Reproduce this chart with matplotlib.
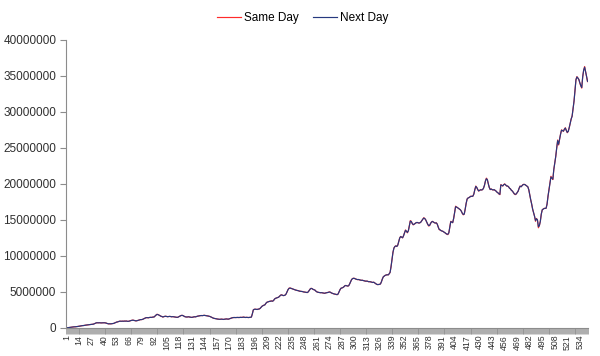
import numpy as np
import matplotlib
matplotlib.use("Agg")
import matplotlib.pyplot as plt
from matplotlib.ticker import FixedLocator, NullFormatter

# values, in millions (one value per day, days 1..542)
same_day = [
    0.00, 0.02, 0.04, 0.05, 0.07, 0.09, 0.12, 0.14, 0.15, 0.14, 0.16, 0.18, 0.20,
    0.22, 0.25, 0.28, 0.30, 0.31, 0.33, 0.36, 0.38, 0.40, 0.41, 0.43, 0.45, 0.47,
    0.48, 0.50, 0.52, 0.58, 0.65, 0.70, 0.71, 0.70, 0.72, 0.70, 0.69, 0.71, 0.70,
    0.72, 0.70, 0.68, 0.62, 0.58, 0.55, 0.57, 0.56, 0.58, 0.60, 0.62, 0.68, 0.75,
    0.80, 0.83, 0.88, 0.92, 0.93, 0.91, 0.94, 0.92, 0.95, 0.93, 0.96, 0.92, 0.90,
    0.93, 0.98, 1.02, 1.06, 1.08, 1.04, 1.00, 0.97, 0.99, 1.03, 1.08, 1.12, 1.15,
    1.15, 1.18, 1.25, 1.32, 1.38, 1.43, 1.42, 1.40, 1.44, 1.47, 1.45, 1.48, 1.50,
    1.52, 1.65, 1.78, 1.90, 1.85, 1.78, 1.70, 1.62, 1.58, 1.50, 1.55, 1.60, 1.62,
    1.58, 1.55, 1.57, 1.60, 1.58, 1.54, 1.56, 1.55, 1.52, 1.50, 1.48, 1.45, 1.50,
    1.58, 1.65, 1.72, 1.75, 1.70, 1.62, 1.55, 1.52, 1.50, 1.52, 1.55, 1.50, 1.48,
    1.45, 1.48, 1.52, 1.55, 1.53, 1.58, 1.62, 1.65, 1.68, 1.70, 1.72, 1.70, 1.72,
    1.75, 1.72, 1.70, 1.68, 1.65, 1.62, 1.58, 1.52, 1.45, 1.38, 1.33, 1.30, 1.28,
    1.25, 1.22, 1.20, 1.18, 1.20, 1.22, 1.19, 1.17, 1.20, 1.24, 1.25, 1.22, 1.20,
    1.25, 1.30, 1.35, 1.40, 1.42, 1.45, 1.43, 1.44, 1.46, 1.45, 1.43, 1.45, 1.47,
    1.45, 1.48, 1.50, 1.46, 1.44, 1.47, 1.45, 1.43, 1.45, 1.48, 1.50, 1.95, 2.50,
    2.58, 2.60, 2.58, 2.55, 2.60, 2.62, 2.70, 2.85, 3.00, 3.10, 3.15, 3.20, 3.40,
    3.55, 3.60, 3.65, 3.70, 3.72, 3.75, 3.70, 3.80, 4.00, 4.10, 4.15, 4.20, 4.25,
    4.35, 4.50, 4.60, 4.55, 4.48, 4.50, 4.55, 4.70, 5.00, 5.30, 5.50, 5.55, 5.50,
    5.45, 5.40, 5.35, 5.30, 5.25, 5.22, 5.20, 5.15, 5.10, 5.08, 5.05, 5.05, 5.00,
    4.98, 4.95, 4.92, 4.90, 5.00, 5.20, 5.40, 5.50, 5.45, 5.35, 5.30, 5.25, 5.10,
    5.00, 4.95, 4.92, 4.90, 4.88, 4.90, 4.85, 4.82, 4.80, 4.85, 4.88, 4.90, 4.95,
    5.00, 4.95, 4.85, 4.80, 4.75, 4.70, 4.68, 4.65, 4.60, 4.70, 5.00, 5.30, 5.50,
    5.55, 5.60, 5.70, 5.85, 5.90, 5.85, 5.80, 5.85, 6.10, 6.40, 6.70, 6.85, 6.90,
    6.88, 6.80, 6.75, 6.70, 6.72, 6.68, 6.65, 6.60, 6.62, 6.58, 6.55, 6.50, 6.48,
    6.50, 6.45, 6.40, 6.42, 6.38, 6.35, 6.30, 6.35, 6.25, 6.15, 6.05, 6.00, 6.02,
    6.05, 6.10, 6.40, 6.80, 7.10, 7.20, 7.30, 7.35, 7.40, 7.35, 7.50, 7.70, 8.50,
    9.50, 10.50, 11.10, 11.30, 11.40, 11.30, 11.50, 12.00, 12.50, 12.70, 12.60, 12.50, 12.80,
    13.20, 13.60, 13.40, 13.20, 13.50, 14.20, 14.90, 14.80, 14.50, 14.30, 14.40, 14.50, 14.60,
    14.65, 14.60, 14.55, 14.60, 14.70, 14.90, 15.10, 15.30, 15.20, 15.00, 14.70, 14.40, 14.15,
    14.20, 14.50, 14.70, 14.80, 14.70, 14.60, 14.55, 14.60, 14.40, 14.00, 13.65, 13.60, 13.50,
    13.45, 13.40, 13.30, 13.20, 13.10, 13.00, 12.95, 13.20, 14.00, 14.80, 14.70, 14.60, 15.20,
    16.00, 16.90, 16.80, 16.70, 16.60, 16.50, 16.40, 16.20, 15.90, 15.70, 15.80, 16.50, 17.30,
    17.90, 18.05, 18.10, 18.20, 18.30, 18.25, 18.30, 18.60, 19.20, 19.70, 19.50, 19.20, 19.00,
    19.10, 19.20, 19.15, 19.20, 19.40, 19.80, 20.40, 20.80, 20.60, 20.00, 19.50, 19.20, 19.30,
    19.20, 19.15, 19.20, 19.10, 19.00, 18.85, 18.75, 18.60, 18.50, 19.90, 19.80, 19.70, 19.90,
    20.00, 19.85, 19.70, 19.70, 19.60, 19.40, 19.30, 19.10, 19.00, 18.80, 18.60, 18.50, 18.60,
    18.80, 19.00, 19.40, 19.70, 19.60, 19.75, 19.90, 19.95, 19.90, 19.80, 19.70, 19.60, 19.20,
    18.50, 17.80, 17.20, 16.50, 16.00, 15.50, 14.80, 15.20, 15.00, 13.90, 14.20, 14.80, 15.80,
    16.40, 16.50, 16.60, 16.60, 16.60, 17.20, 18.30, 19.20, 20.20, 21.05, 20.80, 20.60, 22.00,
    22.90, 23.80, 25.00, 26.10, 25.40, 26.20, 26.90, 27.50, 27.40, 27.30, 27.60, 27.80, 27.40,
    27.10, 27.30, 27.80, 28.40, 29.00, 29.40, 30.50, 31.50, 33.00, 34.50, 34.90, 34.70, 34.50,
    34.00, 33.60, 33.30, 34.90, 35.80, 36.30, 35.60, 34.90, 34.20,
]

next_day = [
    0.00, 0.02, 0.04, 0.05, 0.07, 0.09, 0.12, 0.13, 0.14, 0.14, 0.16, 0.18, 0.20,
    0.22, 0.25, 0.28, 0.30, 0.31, 0.33, 0.36, 0.38, 0.40, 0.41, 0.43, 0.45, 0.47,
    0.48, 0.50, 0.52, 0.58, 0.65, 0.70, 0.71, 0.70, 0.71, 0.70, 0.69, 0.70, 0.70,
    0.71, 0.70, 0.67, 0.62, 0.58, 0.56, 0.57, 0.56, 0.58, 0.60, 0.62, 0.68, 0.75,
    0.80, 0.83, 0.88, 0.92, 0.93, 0.92, 0.93, 0.92, 0.94, 0.93, 0.95, 0.92, 0.91,
    0.93, 0.98, 1.02, 1.05, 1.07, 1.04, 1.00, 0.98, 0.99, 1.03, 1.08, 1.12, 1.15,
    1.15, 1.18, 1.25, 1.32, 1.38, 1.42, 1.42, 1.40, 1.44, 1.46, 1.45, 1.48, 1.50,
    1.52, 1.65, 1.78, 1.86, 1.84, 1.78, 1.70, 1.62, 1.58, 1.52, 1.55, 1.60, 1.61,
    1.58, 1.55, 1.57, 1.59, 1.58, 1.54, 1.56, 1.55, 1.52, 1.50, 1.48, 1.46, 1.50,
    1.58, 1.65, 1.71, 1.74, 1.70, 1.62, 1.55, 1.52, 1.51, 1.52, 1.54, 1.50, 1.48,
    1.46, 1.48, 1.52, 1.54, 1.53, 1.58, 1.62, 1.65, 1.68, 1.70, 1.71, 1.70, 1.72,
    1.74, 1.72, 1.70, 1.68, 1.65, 1.62, 1.58, 1.52, 1.45, 1.38, 1.33, 1.30, 1.28,
    1.25, 1.22, 1.20, 1.19, 1.20, 1.21, 1.19, 1.18, 1.20, 1.23, 1.24, 1.22, 1.21,
    1.25, 1.30, 1.35, 1.40, 1.42, 1.44, 1.43, 1.44, 1.45, 1.45, 1.44, 1.45, 1.46,
    1.45, 1.47, 1.49, 1.46, 1.45, 1.46, 1.45, 1.44, 1.45, 1.47, 1.50, 1.95, 2.50,
    2.58, 2.59, 2.58, 2.56, 2.60, 2.62, 2.70, 2.85, 3.00, 3.08, 3.15, 3.20, 3.40,
    3.55, 3.60, 3.65, 3.68, 3.72, 3.73, 3.71, 3.80, 4.00, 4.10, 4.15, 4.20, 4.25,
    4.35, 4.50, 4.58, 4.55, 4.49, 4.50, 4.55, 4.70, 5.00, 5.30, 5.48, 5.52, 5.50,
    5.45, 5.40, 5.35, 5.30, 5.25, 5.22, 5.20, 5.15, 5.10, 5.08, 5.05, 5.04, 5.00,
    4.98, 4.95, 4.93, 4.91, 5.00, 5.20, 5.38, 5.48, 5.45, 5.35, 5.30, 5.24, 5.10,
    5.00, 4.95, 4.92, 4.90, 4.88, 4.89, 4.86, 4.82, 4.81, 4.85, 4.88, 4.90, 4.94,
    4.98, 4.95, 4.86, 4.80, 4.75, 4.71, 4.68, 4.65, 4.62, 4.70, 5.00, 5.30, 5.50,
    5.55, 5.60, 5.70, 5.84, 5.88, 5.85, 5.81, 5.85, 6.10, 6.40, 6.70, 6.84, 6.88,
    6.87, 6.80, 6.75, 6.71, 6.72, 6.68, 6.65, 6.61, 6.62, 6.58, 6.55, 6.51, 6.48,
    6.50, 6.45, 6.41, 6.42, 6.38, 6.35, 6.31, 6.34, 6.25, 6.15, 6.06, 6.02, 6.02,
    6.05, 6.10, 6.40, 6.80, 7.10, 7.20, 7.30, 7.34, 7.38, 7.35, 7.50, 7.70, 8.50,
    9.50, 10.50, 11.08, 11.30, 11.38, 11.31, 11.50, 12.00, 12.48, 12.68, 12.60, 12.52, 12.80,
    13.20, 13.55, 13.42, 13.25, 13.50, 14.20, 14.82, 14.78, 14.50, 14.35, 14.40, 14.50, 14.60,
    14.64, 14.60, 14.56, 14.60, 14.70, 14.90, 15.10, 15.25, 15.18, 15.00, 14.70, 14.42, 14.22,
    14.22, 14.50, 14.70, 14.78, 14.70, 14.61, 14.56, 14.58, 14.40, 14.00, 13.68, 13.60, 13.50,
    13.45, 13.40, 13.30, 13.22, 13.10, 13.02, 13.00, 13.20, 14.00, 14.75, 14.70, 14.62, 15.20,
    16.00, 16.82, 16.78, 16.70, 16.60, 16.50, 16.40, 16.20, 15.92, 15.75, 15.80, 16.50, 17.30,
    17.90, 18.04, 18.10, 18.20, 18.28, 18.26, 18.30, 18.60, 19.20, 19.65, 19.50, 19.22, 19.02,
    19.10, 19.18, 19.15, 19.20, 19.40, 19.80, 20.40, 20.72, 20.58, 20.00, 19.50, 19.22, 19.28,
    19.20, 19.16, 19.20, 19.10, 19.00, 18.85, 18.76, 18.62, 18.55, 19.85, 19.80, 19.72, 19.88,
    19.96, 19.85, 19.72, 19.70, 19.60, 19.40, 19.30, 19.10, 19.00, 18.80, 18.62, 18.55, 18.60,
    18.80, 19.00, 19.40, 19.68, 19.60, 19.74, 19.88, 19.92, 19.90, 19.80, 19.70, 19.60, 19.20,
    18.50, 17.80, 17.20, 16.50, 16.00, 15.50, 14.90, 15.15, 15.00, 14.05, 14.20, 14.80, 15.80,
    16.40, 16.50, 16.58, 16.60, 16.62, 17.20, 18.30, 19.20, 20.20, 20.95, 20.80, 20.65, 22.00,
    22.90, 23.80, 25.00, 26.00, 25.50, 26.20, 26.90, 27.45, 27.40, 27.32, 27.60, 27.75, 27.42,
    27.15, 27.30, 27.80, 28.40, 29.00, 29.40, 30.50, 31.50, 33.00, 34.45, 34.85, 34.70, 34.50,
    34.05, 33.65, 33.40, 34.85, 35.80, 36.20, 35.60, 34.95, 34.25,
]

tick_labels = [str(d) for d in range(1, 535, 13)]
y_ticks = [0, 5000000, 10000000, 15000000, 20000000, 25000000, 30000000, 35000000, 40000000]

RED = "#ff2b2b"
NAVY = "#26397f"
AXIS_GRAY = "#8c8c8c"


def draw_chart():
    plt.rcParams["font.family"] = ["Liberation Sans", "DejaVu Sans"]
    days = np.arange(1, len(same_day) + 1)
    fig = plt.figure(figsize=(6.0, 3.56), dpi=100)
    ax = fig.add_axes([0.11, 0.079, 0.87, 0.809])

    ax.plot(days, np.array(same_day) * 1e6, color=RED, lw=0.85, label="Same Day")
    ax.plot(days, np.array(next_day) * 1e6, color=NAVY, lw=0.85, label="Next Day")

    ax.set_xlim(0.5, len(same_day) + 0.5)
    ax.set_ylim(0, 40000000)
    ax.set_yticks(y_ticks)
    ax.set_yticklabels([str(v) for v in y_ticks], fontsize=8.5, color="#303030")

    # labels every 13th day, tick marks between every category (Excel style)
    ax.xaxis.set_major_locator(FixedLocator([int(t) for t in tick_labels]))
    ax.set_xticklabels(tick_labels, rotation=90, fontsize=6.3, color="#303030")
    ax.xaxis.set_minor_locator(FixedLocator(np.arange(0.5, len(same_day) + 1, 1.0)))
    ax.xaxis.set_minor_formatter(NullFormatter())
    ax.tick_params(axis="x", which="major", length=0, pad=5)
    ax.tick_params(axis="x", which="minor", length=4, width=0.5, color=AXIS_GRAY)
    ax.tick_params(axis="y", length=4, width=0.8, color=AXIS_GRAY, pad=3)

    for side in ("top", "right"):
        ax.spines[side].set_visible(False)
    for side in ("left", "bottom"):
        ax.spines[side].set_color(AXIS_GRAY)
        ax.spines[side].set_linewidth(0.8)

    fig.legend(loc="center", bbox_to_anchor=(0.505, 0.95), ncol=2, frameon=False,
               fontsize=8.5, handlelength=2.0, handletextpad=0.3, columnspacing=1.2)
    return fig


def main():
    fig = draw_chart()
    fig.savefig("out.png", dpi=100)


if __name__ == "__main__":
    main()
